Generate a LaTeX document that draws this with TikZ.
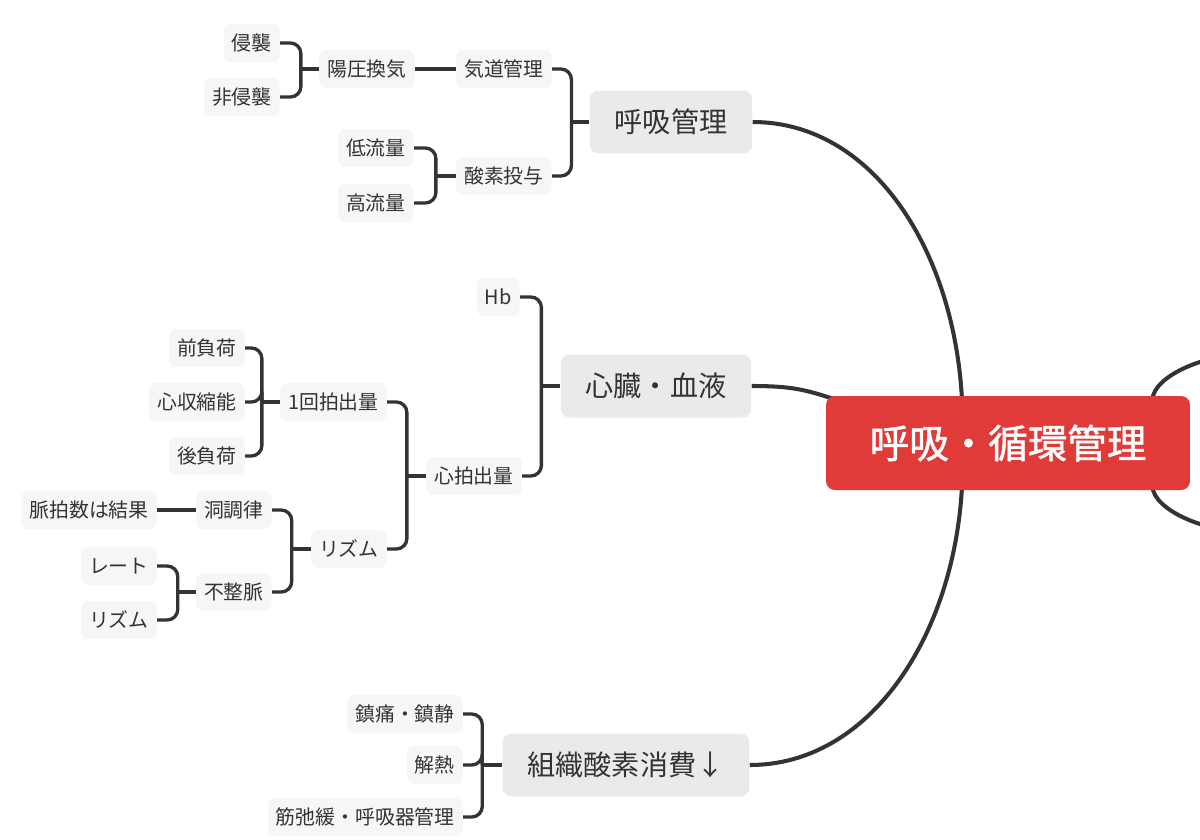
\documentclass[tikz,border=0pt]{standalone}
\usepackage{fontspec}
\usepackage{tikz}
\usetikzlibrary{calc,backgrounds}
\newfontfamily\jpfont{Noto Sans CJK JP}
\newfontfamily\jpmedium[FakeBold=1.3]{Noto Sans CJK JP}
\definecolor{rootred}{HTML}{E03B39}
\definecolor{topicgray}{HTML}{EAEAEA}
\definecolor{leafgray}{HTML}{F6F6F6}
\definecolor{inkgray}{HTML}{333333}

\begin{document}
\begin{tikzpicture}[x=0.02cm, y=-0.02cm,
  rootbox/.style={fill=rootred, text=white, rounded corners=5pt, minimum width=7.28cm, minimum height=1.88cm, font=\jpmedium\fontsize{22.5}{26}\selectfont},
  topicbox/.style={fill=topicgray, text=inkgray, rounded corners=5pt, inner xsep=0.5cm, minimum height=1.26cm, font=\jpfont\fontsize{16}{19}\selectfont},
  leafbox/.style={fill=leafgray, text=inkgray, rounded corners=4pt, inner xsep=0.16cm, minimum height=0.76cm, anchor=east, font=\jpfont\fontsize{11.3}{13}\selectfont},
  fork/.style={draw=inkgray, line width=1.9pt, rounded corners=6pt},
  link/.style={draw=inkgray, line width=2.3pt}]
\useasboundingbox (0,0) rectangle (1200,839);
\clip (0,0) rectangle (1200,839);

% root and main topics
\node[rootbox] (root) at (1008,443) {呼吸・循環管理};
\node[topicbox] (kokyu) at (671,122) {呼吸管理};
\node[topicbox] (shinzo) at (656,386) {心臓・血液};
\node[topicbox] (soshiki) at (626,765) {組織酸素消費↓};

% 呼吸管理
\node[leafbox] (kido) at (552,69) {気道管理};
\node[leafbox] (sanso) at (552,176) {酸素投与};
\node[leafbox] (yoatsu) at (415,69) {陽圧換気};
\node[leafbox] (shinshu) at (280,43) {侵襲};
\node[leafbox] (hishinshu) at (280,97) {非侵襲};
\node[leafbox] (teiryu) at (414,148) {低流量};
\node[leafbox] (koryu) at (414,203) {高流量};

% 心臓・血液
\node[leafbox] (hb) at (520,297) {Hb};
\node[leafbox] (shinpaku) at (522,476) {心拍出量};
\node[leafbox] (ikkai) at (387,402) {1回拍出量};
\node[leafbox] (rhythm) at (387,549) {リズム};
\node[leafbox] (zenfuka) at (245,348) {前負荷};
\node[leafbox] (shushuku) at (245,402) {心収縮能};
\node[leafbox] (kofuka) at (245,456) {後負荷};
\node[leafbox] (dochoritsu) at (272,510) {洞調律};
\node[leafbox] (fuseimyaku) at (272,592) {不整脈};
\node[leafbox] (myakuhaku) at (157,510) {脈拍数は結果};
\node[leafbox] (rate) at (157,566) {レート};
\node[leafbox] (rhythmb) at (157,620) {リズム};

% 組織酸素消費
\node[leafbox] (chintsu) at (463,714) {鎮痛・鎮静};
\node[leafbox] (genetsu) at (463,765) {解熱};
\node[leafbox] (kinshikan) at (463,817) {筋弛緩・呼吸器管理};

\begin{scope}[on background layer]
% curves to the root
\draw[link] (kokyu.east) .. controls +(120,0) and +(-8,-150) .. ($(root.north)+(-46,4)$);
\draw[link] (shinzo.east) .. controls +(40,0) and +(-30,-10) .. ($(root.north west)+(10,4)$);
\draw[link] (soshiki.east) .. controls +(120,0) and +(-8,150) .. ($(root.south)+(-46,-4)$);
\coordinate (offup) at (1232,356);
\coordinate (offdown) at (1232,530);
\draw[link] ($(root.north east)+(-38,4)$) .. controls +(2,-25) and +(-25,0) .. (offup);
\draw[link] ($(root.south east)+(-38,-4)$) .. controls +(2,25) and +(-25,0) .. (offdown);

% brackets
\draw[fork] (kokyu.west) -- ++(-18,0) coordinate (jkokyu);
\foreach \c in {kido,sanso} \draw[fork] (jkokyu) |- (\c.east);
\draw[fork] (kido.west) -- (yoatsu.east);
\draw[fork] (yoatsu.west) -- ++(-18,0) coordinate (jyoatsu);
\foreach \c in {shinshu,hishinshu} \draw[fork] (jyoatsu) |- (\c.east);
\draw[fork] (sanso.west) -- ++(-20,0) coordinate (jsanso);
\foreach \c in {teiryu,koryu} \draw[fork] (jsanso) |- (\c.east);

\draw[fork] (shinzo.west) -- ++(-19,0) coordinate (jshinzo);
\foreach \c in {hb,shinpaku} \draw[fork] (jshinzo) |- (\c.east);
\draw[fork] (shinpaku.west) -- ++(-19,0) coordinate (jshinpaku);
\foreach \c in {ikkai,rhythm} \draw[fork] (jshinpaku) |- (\c.east);
\draw[fork] (ikkai.west) -- ++(-18,0) coordinate (jikkai);
\foreach \c in {zenfuka,shushuku,kofuka} \draw[fork] (jikkai) |- (\c.east);
\draw[fork] (rhythm.west) -- ++(-19,0) coordinate (jrhythm);
\foreach \c in {dochoritsu,fuseimyaku} \draw[fork] (jrhythm) |- (\c.east);
\draw[fork] (dochoritsu.west) -- (myakuhaku.east);
\draw[fork] (fuseimyaku.west) -- ++(-18,0) coordinate (jfuseimyaku);
\foreach \c in {rate,rhythmb} \draw[fork] (jfuseimyaku) |- (\c.east);

\draw[fork] (soshiki.west) -- ++(-20,0) coordinate (jsoshiki);
\foreach \c in {chintsu,genetsu,kinshikan} \draw[fork] (jsoshiki) |- (\c.east);
\end{scope}
\end{tikzpicture}
\end{document}
